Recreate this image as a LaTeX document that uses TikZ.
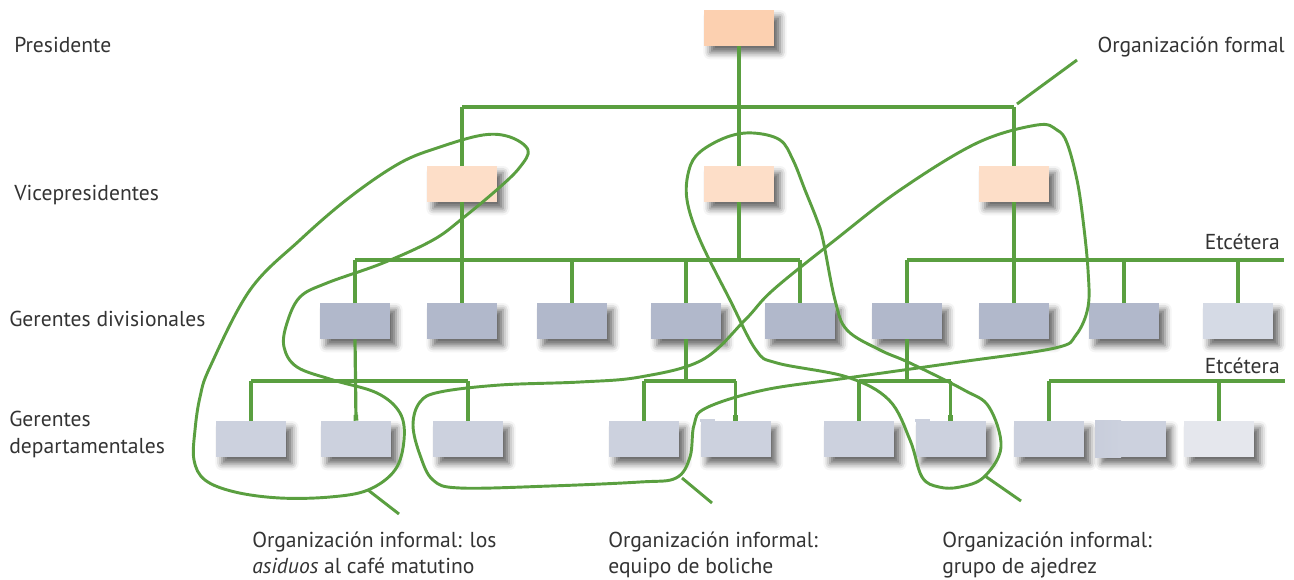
\documentclass[tikz,border=0pt]{standalone}
\usepackage{fontspec}
\setmainfont{PT Sans}
\usepackage{xcolor}
\usepackage{tikz}
\usetikzlibrary{arrows.meta, shadows.blur}

\definecolor{orggreen}{HTML}{5A9F40}
\definecolor{inkgray}{HTML}{333333}
\definecolor{presfill}{HTML}{FCD0B0}
\definecolor{vpfill}{HTML}{FDDEC8}
\definecolor{divfill}{HTML}{B1B8CB}
\definecolor{divlight}{HTML}{D5DAE5}
\definecolor{deptfill}{HTML}{CCD1DE}
\definecolor{deptlight}{HTML}{E5E7ED}

\tikzset{
  unit/.style={draw=none, minimum width=52.5pt, minimum height=27pt, inner sep=0pt,
    blur shadow={shadow xshift=4.5pt, shadow yshift=-5pt, shadow blur radius=5pt, shadow opacity=60}},
  presbox/.style={unit, fill=presfill},
  vpbox/.style={unit, fill=vpfill},
  divbox/.style={unit, fill=divfill},
  deptbox/.style={unit, fill=deptfill},
  orgline/.style={draw=orggreen, line width=2.4pt},
  tick/.style={-{Rectangle[length=4.5pt,width=3.4pt]}},
  informal/.style={draw=orggreen, line width=2.2pt},
  rowlabel/.style={font=\fontsize{16.2}{20}\selectfont, text=inkgray, anchor=base west, inner sep=0pt},
  notelabel/.style={font=\fontsize{16.2}{19.5}\selectfont, text=inkgray, anchor=base west, inner sep=0pt}
}

\begin{document}
\begin{tikzpicture}[x=0.75pt, y=-0.75pt]
\useasboundingbox (0,0) rectangle (1294,579);
% Level labels
\node[rowlabel] (lpres) at (14,52) {Presidente};
\node[rowlabel] (lvp) at (14,200) {Vicepresidentes};
\node[rowlabel] (ldiv) at (9,326) {Gerentes divisionales};
\node[rowlabel] (ldept) at (9,426) {Gerentes};
\node[rowlabel] (ldept2) at (9,453) {departamentales};
% Boxes
\node[presbox] (pres) at (739,28) {};
\node[vpbox] (vp1) at (462,184) {};
\node[vpbox] (vp2) at (739,184) {};
\node[vpbox] (vp3) at (1014,184) {};
\foreach \x [count=\i] in {355,462,572,686,800,907,1014,1124}
  \node[divbox] (div\i) at (\x,321) {};
\node[divbox, fill=divlight] (div9) at (1238,321) {};
\foreach \x [count=\i] in {251,356,468,644,735.5,859,950.5,1049,1130.5}
  \node[deptbox] (dept\i) at (\x,439) {};
\node[deptbox, fill=deptlight] (dept10) at (1219,439) {};
% Overlap marks
\fill[deptfill] (700,419) rectangle (715,422);
\fill[deptfill] (915,419) rectangle (930,422);
\fill[left color=deptfill!85!divfill, right color=deptfill] (1095,420) rectangle (1121,457);
% Formal organisation
\coordinate (topbar) at (0,107);
\coordinate (divbar) at (0,260);
\coordinate (deptbar) at (0,381);
\coordinate (etc1) at (1284,260);
\coordinate (etc2) at (1285,381);
\draw[orgline, tick] (pres.south) -- (vp2.north);
\draw[orgline, tick] (vp1 |- topbar) -- (vp1.north);
\draw[orgline] (vp1 |- topbar) -- (vp3 |- topbar);
\draw[orgline, tick] (vp3 |- topbar) -- (vp3.north);
\draw[orgline, tick] (vp1.south) -- (div2.north);
\draw[orgline] (vp2.south) -- (vp2 |- divbar);
\draw[orgline] (div1 |- divbar) -- (div5 |- divbar);
\foreach \i in {1,3,4,5}
  \draw[orgline, tick] (div\i |- divbar) -- (div\i.north);
\draw[orgline, tick] (vp3.south) -- (div7.north);
\draw[orgline] (div6 |- divbar) -- (etc1);
\foreach \i in {6,8,9}
  \draw[orgline, tick] (div\i |- divbar) -- (div\i.north);
\draw[orgline, tick] (div1.south) -- (dept2.north);
\draw[orgline] (dept1 |- deptbar) -- (dept3 |- deptbar);
\draw[orgline] (div4.south) -- (div4 |- deptbar);
\draw[orgline] (dept4 |- deptbar) -- (dept5 |- deptbar);
\draw[orgline] (div6.south) -- (div6 |- deptbar);
\draw[orgline] (dept6 |- deptbar) -- (dept7 |- deptbar);
\draw[orgline] (dept8 |- deptbar) -- (etc2);
\foreach \i in {1,3,4,5,6,7,8,10}
  \draw[orgline, tick] (dept\i |- deptbar) -- (dept\i.north);
\node[rowlabel, anchor=base east] (etcdiv) at (1280,249) {Etcétera};
\node[rowlabel, anchor=base east] (etcdept) at (1280,373) {Etcétera};
\coordinate (formalEnd) at (1017,104);
\coordinate (formalTip) at (1077,60);
\draw[informal] (formalEnd) -- (formalTip);
\node[rowlabel, anchor=base east] (lformal) at (1285,52) {Organización formal};
% Informal organisation: coffee
\draw[informal] plot[smooth cycle, tension=0.6] coordinates {
  (483,135) (510,137) (528,150) (520,167) (500,187) (463,218) (433,240) (383,263)
  (327,283) (300,297) (287,323) (284,347) (297,367) (333,380) (377,393) (400,413)
  (404,440) (395,470) (368,490) (330,497) (280,498) (235,492) (205,480) (194,460)
  (195,430) (200,397) (210,367) (250,290) (300,240) (350,197) (400,163) (440,147)};
% Informal organisation: bowling
\draw[informal] plot[smooth cycle, tension=0.6] coordinates {
  (1037,125) (1057,130) (1067,143) (1077,180) (1083,220) (1088,270) (1088,307) (1076,335)
  (1055,348) (960,362) (847,378) (764,390) (706,408) (694,425) (690,457) (676,478)
  (640,482) (550,486) (460,488) (433,480) (420,455) (413,425) (420,402) (440,392)
  (500,385) (580,382) (640,377) (702,360) (745,320) (773,290) (835,240) (900,190) (977,143)};
% Informal organisation: chess
\draw[informal] plot[smooth cycle, tension=0.6] coordinates {
  (753,133) (780,140) (793,160) (805,190) (817,220) (823,240) (835,300) (847,330)
  (880,350) (910,363) (964,390) (989,407) (1001,447) (984,477) (960,487) (939,487)
  (922,477) (910,440) (889,400) (847,377) (777,363) (756,350) (730,300) (700,240)
  (687,200) (689,170) (700,152) (727,137)};
% Leaders and notes
\coordinate (cafeEnd) at (368,490);
\coordinate (cafeTip) at (399,514);
\coordinate (bowlEnd) at (682,478);
\coordinate (bowlTip) at (712,503);
\coordinate (chessEnd) at (985,476);
\coordinate (chessTip) at (1021,501);
\draw[informal] (cafeEnd) -- (cafeTip);
\draw[informal] (bowlEnd) -- (bowlTip);
\draw[informal] (chessEnd) -- (chessTip);
\node[notelabel] (ncafe) at (252,547) {Organización informal: los};
\node[notelabel] (ncafe2) at (252,573) {\textit{asiduos} al café matutino};
\node[notelabel] (nbowl) at (608,547) {Organización informal:};
\node[notelabel] (nbowl2) at (608,573) {equipo de boliche};
\node[notelabel] (nchess) at (942,547) {Organización informal:};
\node[notelabel] (nchess2) at (942,573) {grupo de ajedrez};
\end{tikzpicture}
\end{document}
